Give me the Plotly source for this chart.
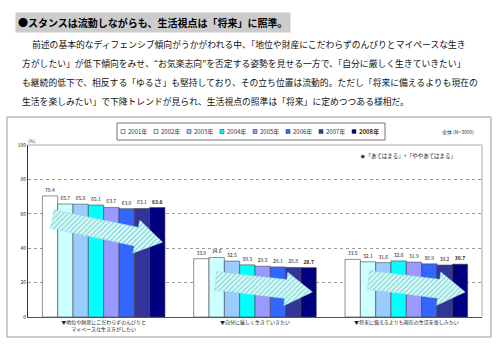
import plotly.graph_objects as go

# ---------------- data ----------------
years = ["2001年", "2002年", "2003年", "2004年", "2005年", "2006年", "2007年", "2008年"]
categories = [
    "▼地位や財産にこだわらずのんびりと<br>マイペースな生き方がしたい",
    "▼自分に厳しく生きていきたい",
    "▼将来に備えるよりも現在の生活を楽しみたい",
]
v2001 = [70.4, 33.9, 33.5]
v2002 = [65.7, 34.6, 32.1]
v2003 = [65.6, 32.5, 31.6]
v2004 = [65.1, 30.3, 32.6]
v2005 = [63.7, 29.5, 31.9]
v2006 = [63.0, 29.1, 30.9]
v2007 = [63.1, 28.8, 30.2]
v2008 = [63.6, 28.7, 30.7]
series = [v2001, v2002, v2003, v2004, v2005, v2006, v2007, v2008]
colors = ["#ffffff", "#ccffff", "#99ccff", "#00ffff", "#9999ff", "#3366ff", "#333399", "#000080"]
y_ticks = [0, 20, 40, 60, 80, 100]

# trend arrows (decorative): start/end level per category
arrow_from = [57.0, 21.0, 21.5]
arrow_to = [43.5, 14.5, 14.5]
arrow_x_from = [-0.34, -0.26, -0.25]
arrow_x_to = [0.39, 0.38, 0.39]

title = "●スタンスは流動しながらも、生活視点は「将来」に照準。"
para = [
    "前述の基本的なディフェンシブ傾向がうかがわれる中、「地位や財産にこだわらずのんびりとマイペースな生き",
    "方がしたい」が低下傾向をみせ、“お気楽志向”を否定する姿勢を見せる一方で、「自分に厳しく生きていきたい」",
    "も継続的低下で、相反する「ゆるさ」も堅持しており、その立ち位置は流動的。ただし「将来に備えるよりも現在の",
    "生活を楽しみたい」で下降トレンドが見られ、生活視点の照準は「将来」に定めつつある様相だ。",
]

FONT = "Noto Sans CJK JP"
W, H = 500, 350
ML, MR, MT, MB = 28, 18, 145, 33
PW, PH = W - ML - MR, H - MT - MB
XR = (-0.5, 2.5)
YR = (0, 100)


def px(x):
    return (x - ML) / PW


def py(y):
    return (H - MB - y) / PH


fig = go.Figure()

for i, (yr, vals, col) in enumerate(zip(years, series, colors)):
    bold = i == len(years) - 1
    fig.add_trace(go.Bar(
        x=[0, 1, 2], y=vals, name=yr,
        marker=dict(color=col, line=dict(color="#444444", width=0.6)),
        texttemplate="<b>%{y:.1f}</b>" if bold else "%{y:.1f}",
        textposition="outside", cliponaxis=False, constraintext="none",
        textfont=dict(size=5, color="#222222", family=FONT),
        showlegend=False, hoverinfo="skip",
    ))

# arrows built in pixel space then mapped back to data units
sx = PW / (XR[1] - XR[0])
sy = PH / (YR[1] - YR[0])
HW, HH, HL = 9.5, 17, 27
for x0, v0, x1, v1, c in zip(arrow_x_from, arrow_from, arrow_x_to, arrow_to, range(3)):
    X0, Y0 = (c + x0) * sx, v0 * sy
    X1, Y1 = (c + x1) * sx, v1 * sy
    dx, dy = X1 - X0, Y1 - Y0
    L = (dx * dx + dy * dy) ** 0.5
    ux, uy = dx / L, dy / L
    nx, ny = -uy, ux
    bx, by = X1 - ux * HL, Y1 - uy * HL
    pts = [
        (X0 + nx * HW, Y0 + ny * HW),
        (bx + nx * HW, by + ny * HW),
        (bx + nx * HH, by + ny * HH),
        (X1, Y1),
        (bx - nx * HH, by - ny * HH),
        (bx - nx * HW, by - ny * HW),
        (X0 - nx * HW, Y0 - ny * HW),
        (X0 + nx * HW, Y0 + ny * HW),
    ]
    fig.add_trace(go.Scatter(
        x=[p[0] / sx for p in pts], y=[p[1] / sy for p in pts],
        mode="lines", fill="toself", line=dict(width=0.4, color="#7fdada"),
        fillcolor="rgba(0,0,0,0)",
        fillpattern=dict(shape="/", fgcolor="#22c4c4", bgcolor="#ffffff", size=3.5, solidity=0.6),
        showlegend=False, hoverinfo="skip",
    ))

fig.update_layout(
    width=W, height=H,
    margin=dict(l=ML, r=MR, t=MT, b=MB),
    paper_bgcolor="white", plot_bgcolor="white",
    barmode="group", bargap=0.19, bargroupgap=0,
    font=dict(family=FONT, color="#222222"),
    xaxis=dict(range=list(XR), tickvals=[0, 1, 2], ticktext=categories,
               tickfont=dict(size=5, family=FONT), showline=True, linecolor="#555555",
               linewidth=1, showgrid=False, zeroline=False, ticks=""),
    yaxis=dict(range=list(YR), tickvals=y_ticks, tickfont=dict(size=5, family=FONT),
               showline=True, linecolor="#333333", linewidth=1, showgrid=True,
               gridcolor="#999999", griddash="dot", gridwidth=0.6, zeroline=False, ticks=""),
)

shapes = []
# outer chart box
shapes.append(dict(type="rect", xref="paper", yref="paper", x0=px(7), x1=px(491),
                   y0=py(337), y1=py(117), line=dict(color="#999999", width=1), layer="below"))
# plot area top / right border
shapes.append(dict(type="line", xref="paper", yref="paper", x0=0, x1=1, y0=1, y1=1,
                   line=dict(color="#aaaaaa", width=1)))
shapes.append(dict(type="line", xref="paper", yref="paper", x0=1, x1=1, y0=0, y1=1,
                   line=dict(color="#aaaaaa", width=1)))
# legend box
shapes.append(dict(type="rect", xref="paper", yref="paper", x0=px(117), x1=px(385),
                   y0=py(140), y1=py(123), line=dict(color="#777777", width=1)))

annotations = []
for i, (yr, col) in enumerate(zip(years, colors)):
    sxp = 121 + 33 * i
    shapes.append(dict(type="rect", xref="paper", yref="paper", x0=px(sxp), x1=px(sxp + 4),
                       y0=py(133.5), y1=py(129.5), fillcolor=col,
                       line=dict(color="#444444", width=0.6)))
    txt = f"<b>{yr}</b>" if i == len(years) - 1 else yr
    annotations.append(dict(xref="paper", yref="paper", x=px(sxp + 5), y=py(131.5),
                            text=txt, showarrow=False, xanchor="left", yanchor="middle",
                            font=dict(size=6, family=FONT, color="#333333")))

annotations.append(dict(xref="paper", yref="paper", x=px(476), y=py(131.5), text="全体 (N=3000)",
                        showarrow=False, xanchor="right", yanchor="middle",
                        font=dict(size=5, family=FONT, color="#333333")))
annotations.append(dict(xref="paper", yref="paper", x=px(358), y=py(156), text="★「あてはまる」+「ややあてはまる」",
                        showarrow=False, xanchor="left", yanchor="middle",
                        font=dict(size=5.5, family=FONT, color="#222222")))
annotations.append(dict(xref="paper", yref="paper", x=px(26), y=py(141), text="(%)",
                        showarrow=False, xanchor="left", yanchor="middle",
                        font=dict(size=4.5, family=FONT, color="#333333")))

# heading and paragraph
annotations.append(dict(xref="paper", yref="paper", x=px(15), y=py(22), text=f"<b>{title}</b>",
                        showarrow=False, xanchor="left", yanchor="middle", bgcolor="#cccccc",
                        borderpad=2, font=dict(size=10, family=FONT, color="#000000")))
for j, line in enumerate(para):
    annotations.append(dict(xref="paper", yref="paper", x=px(30 if j == 0 else 20), y=py(44 + 19 * j),
                            text=line, showarrow=False, xanchor="left", yanchor="middle",
                            font=dict(size=8.8, family=FONT, color="#111111")))

fig.update_layout(shapes=shapes, annotations=annotations)
fig.write_html("out.html")
